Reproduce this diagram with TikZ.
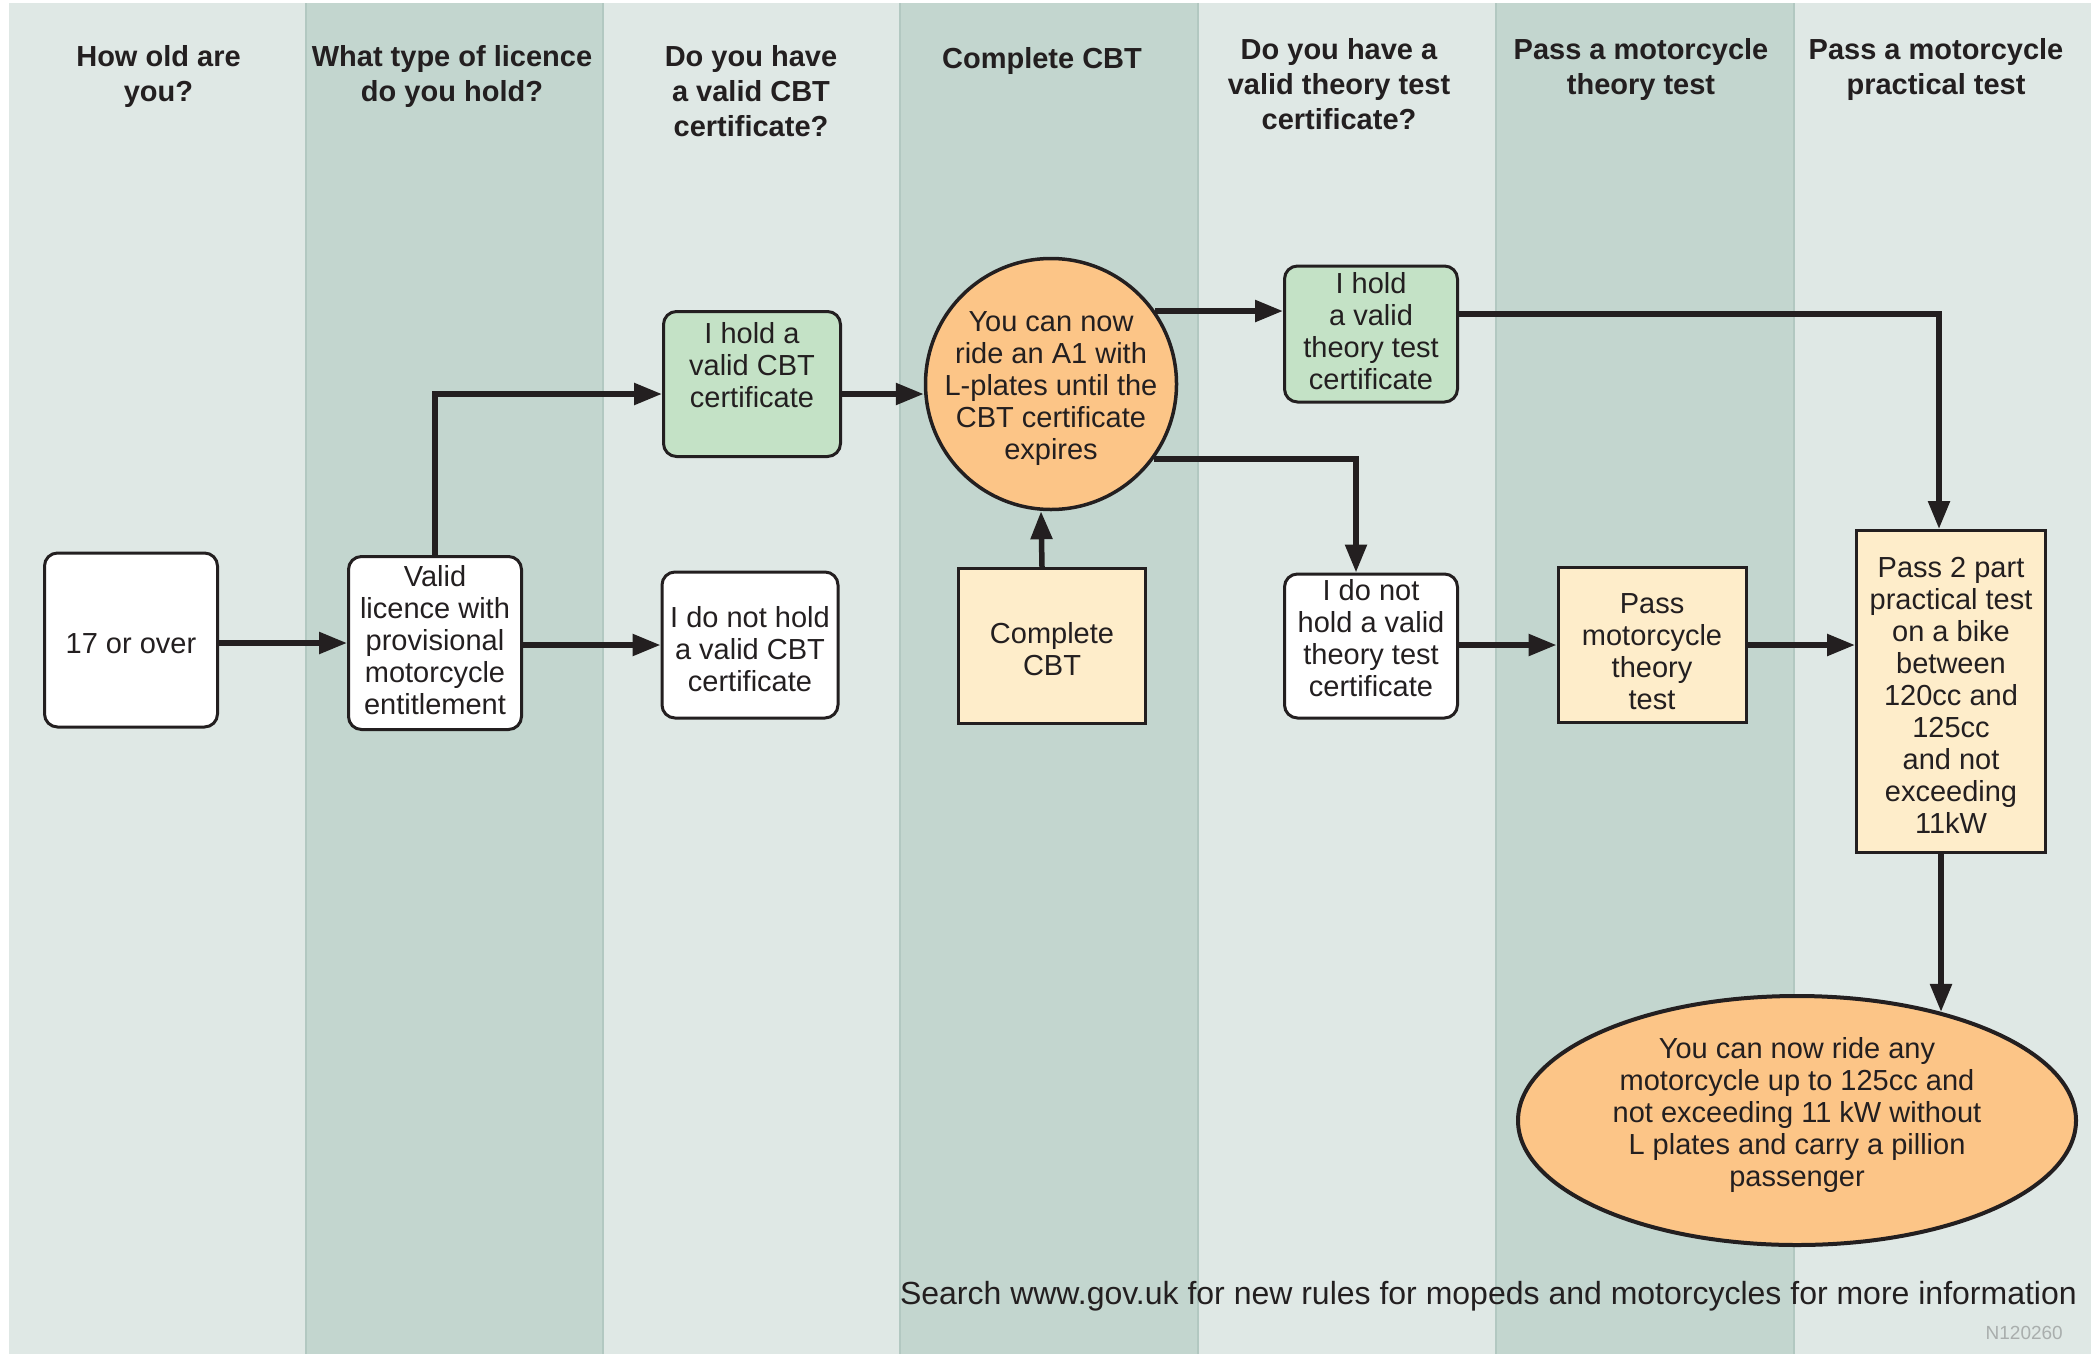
\documentclass[tikz,border=0pt]{standalone}
\usepackage{fontspec}
\setmainfont{Liberation Sans}
\usetikzlibrary{arrows.meta,shapes.geometric,calc}
\definecolor{ink}{HTML}{231F20}
\definecolor{lightcol}{HTML}{DFE8E5}
\definecolor{darkcol}{HTML}{C3D6CF}
\definecolor{edgecol}{HTML}{B2C8C1}
\definecolor{orangefill}{HTML}{FCC587}
\definecolor{greenfill}{HTML}{C4E2C6}
\definecolor{creamfill}{HTML}{FEEDCA}
\definecolor{codegray}{HTML}{A9AEAD}
\begin{document}
\begin{tikzpicture}[x=1pt,y=-1pt,
  header/.style={anchor=north, align=center, inner sep=0pt, text=ink, font=\fontsize{29}{35}\selectfont\bfseries},
  boxbase/.style={draw=ink, line width=3pt, inner sep=0pt},
  rbox/.style={boxbase, rounded corners=13pt, fill=white},
  gbox/.style={rbox, fill=greenfill},
  cbox/.style={boxbase, fill=creamfill},
  btext/.style={align=center, inner sep=0pt, text=ink, font=\fontsize{29}{32}\selectfont},
  arr/.style={draw=ink, line width=5.5pt, -{Triangle[length=28pt,width=21pt]}},
]
\useasboundingbox (0,0) rectangle (2098,1357);
% background panel and columns
\fill[white] (0,0) rectangle (2098,1357);
\fill[lightcol] (9,3) rectangle (2091,1354);
\foreach \a/\b in {306/603,900/1198,1496/1794}{
  \fill[darkcol] (\a,3) rectangle (\b,1354);
  \draw[edgecol, line width=1.5pt] (\a,3) -- (\a,1354);
  \draw[edgecol, line width=1.5pt] (\b,3) -- (\b,1354);
}
% headers
\node[header] (h1) at (158.5,45.7) {How old are\\you?};
\node[header] (h2) at (452,45.7) {What type of licence\\do you hold?};
\node[header] (h3) at (751,45.7) {Do you have\\a valid CBT\\certificate?};
\node[header] (h4) at (1042,47.3) {Complete CBT};
\node[header] (h5) at (1339,38.7) {Do you have a\\valid theory test\\certificate?};
\node[header] (h6) at (1641,38.7) {Pass a motorcycle\\theory test};
\node[header] (h7) at (1936,38.7) {Pass a motorcycle\\practical test};
% boxes
\node[rbox, minimum width=173pt, minimum height=174pt] (n1) at (131,640) {};
\node[btext] (n1t) at (131,644) {17 or over};
\node[rbox, minimum width=173pt, minimum height=173pt] (n2) at (435,643) {};
\node[btext] (n2t) at (435,640.3) {Valid\\licence with\\provisional\\motorcycle\\entitlement};
\node[gbox, minimum width=177pt, minimum height=145pt] (n3) at (752,384) {};
\node[btext] (n3t) at (752,365) {I hold a\\valid CBT\\certificate};
\node[rbox, minimum width=176pt, minimum height=146pt] (n4) at (750,645) {};
\node[btext] (n4t) at (750,649) {I do not hold\\a valid CBT\\certificate};
\node[cbox, minimum width=187pt, minimum height=155pt] (n5) at (1052,646) {};
\node[btext] (n5t) at (1052,648.7) {Complete\\CBT};
\node[circle, draw=ink, line width=3.5pt, fill=orangefill, minimum size=251pt, inner sep=0pt] (c1) at (1051,384) {};
\node[btext] (c1t) at (1051,389) {You can now\\ride an A1 with\\L-plates until the\\CBT certificate\\expires};
\node[gbox, minimum width=173pt, minimum height=136pt] (n7) at (1371,334) {};
\node[btext] (n7t) at (1371,331) {I hold\\a valid\\theory test\\certificate};
\node[rbox, minimum width=173pt, minimum height=144pt] (n8) at (1371,646) {};
\node[btext] (n8t) at (1371,638) {I do not\\hold a valid\\theory test\\certificate};
\node[cbox, minimum width=188pt, minimum height=155pt] (n9) at (1652,645) {};
\node[btext] (n9t) at (1652,652) {Pass\\motorcycle\\theory\\test};
\node[cbox, minimum width=189pt, minimum height=322pt] (n10) at (1951,691.5) {};
\node[btext] (n10t) at (1951,695.5) {Pass 2 part\\practical test\\on a bike\\between\\120cc and\\125cc\\and not\\exceeding\\11kW};
\node[ellipse, draw=ink, line width=4pt, fill=orangefill, minimum width=558pt, minimum height=249pt, inner sep=0pt] (e1) at (1797,1120.5) {};
\node[btext] (e1t) at (1797,1115) {You can now ride any\\motorcycle up to 125cc and\\not exceeding 11 kW without\\L plates and carry a pillion\\passenger};
% connectors
\draw[arr] (n1.east |- n2) -- (n2.west);
\draw[arr] (n2.north) |- ([yshift=-10pt]n3.west);
\draw[arr] (n2.east |- n4) -- (n4.west);
\draw[arr] ([yshift=-10pt]n3.east) -- ([yshift=-10pt]c1.west);
\draw[arr] ([xshift=-10pt]n5.north) -- ([xshift=-10pt]c1.south);
\draw[arr] (c1.35.5) -- (c1.35.5 -| n7.west);
\draw[arr] (c1.-36.9) -| ([xshift=-15pt]n8.north);
\draw[arr] ([yshift=20pt]n7.east) -| ([xshift=-12pt]n10.north);
\draw[arr] (n8.east |- n9) -- (n9.west);
\draw[arr] (n9.east) -- (n9.east -| n10.west);
\draw[arr] ([xshift=-10pt]n10.south) -- ([xshift=-10pt]n10.south |- e1.37.05);
% footer
\node[anchor=base east, inner sep=0pt, text=ink, font=\fontsize{32}{38}\selectfont] (foot) at (2077,1304) {Search www.gov.uk for new rules for mopeds and motorcycles for more information};
\node[anchor=base east, inner sep=0pt, text=codegray, font=\fontsize{19}{22}\selectfont] (code) at (2063,1339) {N120260};
\end{tikzpicture}
\end{document}
